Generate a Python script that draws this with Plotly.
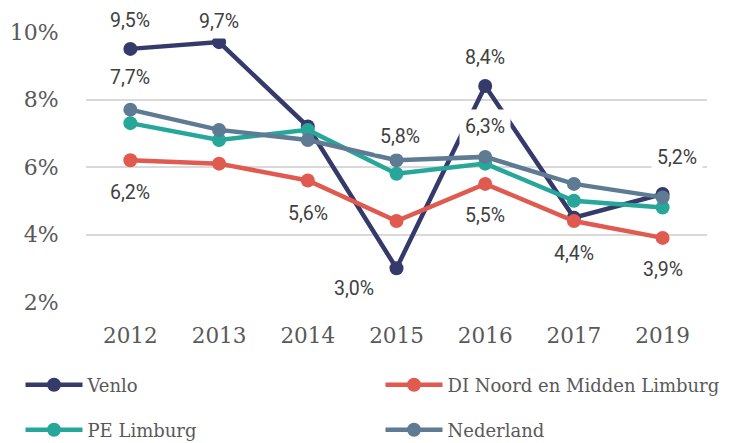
import plotly.graph_objects as go

years = ["2012", "2013", "2014", "2015", "2016", "2017", "2019"]

venlo = [9.5, 9.7, 7.2, 3.0, 8.4, 4.5, 5.2]
di_noord = [6.2, 6.1, 5.6, 4.4, 5.5, 4.4, 3.9]
pe_limburg = [7.3, 6.8, 7.1, 5.8, 6.1, 5.0, 4.8]
nederland = [7.7, 7.1, 6.8, 6.2, 6.3, 5.5, 5.1]

# each series gets its own one-item legend, laid out as a 2x2 grid below the plot
series = [
    ("Venlo", venlo, "#363a6b", "legend"),
    ("DI Noord en Midden Limburg", di_noord, "#e05a4f", "legend2"),
    ("PE Limburg", pe_limburg, "#27a79a", "legend3"),
    ("Nederland", nederland, "#5e7b93", "legend4"),
]

# which points carry a value label, with pixel offsets (series, index, dx, dy)
labelled = [
    ("Venlo", 0, 0, 28), ("Venlo", 1, 0, 21), ("Venlo", 3, -43, -20),
    ("Venlo", 4, 0, 29), ("Venlo", 6, 14, 37),
    ("Nederland", 0, 0, 32), ("Nederland", 4, 0, 30),
    ("PE Limburg", 3, 3, 37),
    ("DI Noord en Midden Limburg", 0, 0, -32), ("DI Noord en Midden Limburg", 2, 0, -33),
    ("DI Noord en Midden Limburg", 4, 0, -32), ("DI Noord en Midden Limburg", 5, 0, -32),
    ("DI Noord en Midden Limburg", 6, 0, -32),
]

# years are evenly spaced category slots on the x axis
slots = list(range(len(years)))

serif = "DejaVu Serif"
fig = go.Figure()
for name, vals, color, lg in series:
    fig.add_trace(go.Scatter(
        x=slots, y=vals, name=name, mode="lines+markers",
        line=dict(color=color, width=4.5),
        marker=dict(color=color, size=14),
        legend=lg,
    ))

values = {name: vals for name, vals, _, _ in series}
for name, i, dx, dy in labelled:
    v = values[name][i]
    fig.add_annotation(
        x=slots[i], y=v, text=f"{v:.1f}".replace(".", ",") + "%",
        showarrow=False, xshift=dx, yshift=dy,
        bgcolor="white", borderpad=5,
        font=dict(family="Roboto", size=19.5, color="#404040"),
    )

legend_common = dict(
    orientation="v", xanchor="left", yanchor="middle",
    xref="container", yref="container", itemwidth=57,
    font=dict(family=serif, size=18, color="#595959"),
    bgcolor="rgba(0,0,0,0)",
)
W, H = 730, 443
col_x = [20.5 / W, 380.5 / W]
row_y = [1 - 385 / H, 1 - 430 / H]

fig.update_layout(
    width=W, height=H,
    margin=dict(l=86, r=23, t=32, b=141, autoexpand=False),
    paper_bgcolor="white", plot_bgcolor="white",
    showlegend=True,
    legend=dict(x=col_x[0], y=row_y[0], **legend_common),
    legend2=dict(x=col_x[1], y=row_y[0], **legend_common),
    legend3=dict(x=col_x[0], y=row_y[1], **legend_common),
    legend4=dict(x=col_x[1], y=row_y[1], **legend_common),
    xaxis=dict(
        range=[-0.5, len(years) - 0.5],
        tickvals=slots, ticktext=years,
        showgrid=False, zeroline=False, showline=False,
        ticks="outside", ticklen=14, tickcolor="rgba(0,0,0,0)",
        tickfont=dict(family=serif, size=21.5, color="#595959"),
    ),
    yaxis=dict(
        range=[2, 10], tickvals=[2, 4, 6, 8, 10],
        ticktext=["2%", "4%", "6%", "8%", "10%"],
        showgrid=True, gridcolor="#d9d9d9", gridwidth=1.5,
        zeroline=False, showline=False,
        ticks="outside", ticklen=22, tickcolor="rgba(0,0,0,0)",
        tickfont=dict(family=serif, size=22, color="#595959"),
    ),
)

fig.write_html("out.html")
